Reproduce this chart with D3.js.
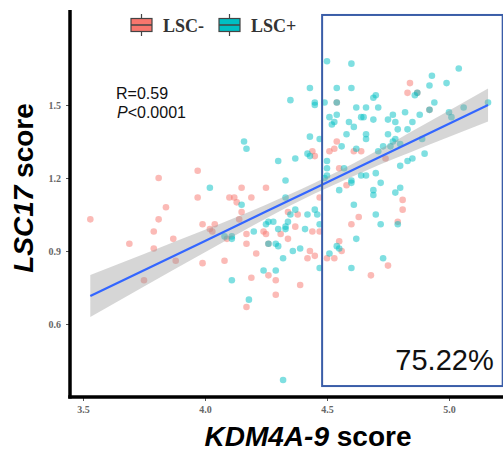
<!DOCTYPE html>
<html>
<head>
<meta charset="utf-8">
<script src="https://cdn.jsdelivr.net/npm/d3@7"></script>
<style>
  body { margin: 0; background: #fff; }
  svg { display: block; }
</style>
</head>
<body>
<div id="chart-area"></div>
<script>
// Data
var xTicks = [3.5, 4.0, 4.5, 5.0];
var yTicks = [0.6, 0.9, 1.2, 1.5];
var groups = ["LSC-", "LSC+"];

// LSC- samples [KDM4A-9 score, LSC17 score]
var lscNeg = [
  [4.54,1.51],[4.54,1.35],[4.51,1.31],[4.53,1.32],[4.44,1.31],[4.45,1.29],[4.55,1.24],[4.84,1.59],[4.83,1.55],[4.87,1.55],
  [4.92,1.48],[4.61,1.31],[4.64,1.31],[4.74,1.28],
  [3.81,1.20],[3.97,1.23],[3.53,1.03],[3.69,0.93],[3.79,0.98],[3.81,1.03],[3.84,1.08],[3.87,0.95],[3.79,0.91],[3.88,0.86],
  [3.75,0.78],[3.97,1.12],[3.99,1.01],[4.04,1.01],[4.02,0.99],[4.03,0.98],[3.99,0.85],[4.08,0.86],[4.10,1.12],[4.12,1.12],
  [4.13,1.10],[4.15,1.16],[4.15,1.06],[4.14,1.03],[4.17,0.97],[4.17,0.93],[4.09,0.95],[4.17,0.67],
  [4.25,1.16],[4.19,1.12],[4.34,1.06],[4.38,1.05],[4.47,1.12],[4.37,1.00],[4.31,0.97],[4.44,0.98],[4.47,0.98],[4.24,0.98],
  [4.25,0.97],[4.21,0.89],[4.34,0.95],[4.43,0.90],[4.42,0.87],[4.45,0.88],[4.50,0.87],[4.53,0.87],[4.55,0.94],[4.56,0.90],
  [4.60,1.01],[4.63,1.04],[4.19,0.79],[4.26,0.80],[4.29,0.78],[4.39,0.76],[4.29,0.72],[4.68,0.80],[4.58,1.17],[4.26,0.93],
  [4.81,1.11],[4.81,1.07],[4.79,1.02],[4.75,0.84]
];

// LSC+ samples
var lscPos = [
  [4.50,1.68],[4.43,1.57],[4.54,1.57],[4.35,1.52],[4.45,1.51],[4.45,1.50],[4.49,1.51],[4.54,1.51],[4.51,1.45],[4.54,1.46],
  [4.53,1.43],[4.52,1.42],[4.43,1.37],[4.47,1.36],[4.16,1.35],[4.17,1.32],[4.56,1.33],[4.42,1.30],[4.30,1.27],[4.37,1.28],
  [4.43,1.29],[4.50,1.27],[4.50,1.24],[4.57,1.24],
  [4.60,1.67],[5.04,1.65],[4.93,1.62],[4.99,1.59],[4.92,1.58],[4.60,1.57],[4.87,1.55],[4.86,1.54],[4.70,1.54],[4.69,1.53],
  [4.94,1.51],[5.16,1.51],[5.06,1.49],[4.92,1.48],[5.00,1.47],[5.01,1.45],[4.62,1.49],[4.66,1.49],[4.71,1.49],[4.82,1.47],
  [4.77,1.46],[4.88,1.46],[4.64,1.45],[4.65,1.45],[4.69,1.44],[4.75,1.44],[4.85,1.43],[4.78,1.43],[4.59,1.43],[4.61,1.41],
  [4.79,1.40],[4.66,1.38],[4.75,1.38],[4.83,1.40],[4.58,1.38],[4.78,1.36],[4.66,1.36],[4.89,1.36],[4.73,1.33],[4.77,1.35],
  [4.80,1.34],[4.71,1.31],[4.76,1.33],[4.90,1.30],[4.85,1.28],[4.83,1.27],[4.80,1.25],[4.62,1.32],[4.70,1.22],[4.66,1.21],
  [4.02,1.16],[4.15,1.09],[4.08,0.96],[4.11,0.96],[4.11,0.95],[4.11,0.78],[4.18,0.70],
  [4.33,1.19],[4.49,1.20],[4.50,1.21],[4.55,1.15],[4.60,1.19],[4.60,1.18],[4.64,1.21],[4.69,1.15],[4.69,1.13],[4.61,1.09],
  [4.37,1.07],[4.35,1.05],[4.42,1.05],[4.45,1.07],[4.46,1.05],[4.47,1.01],[4.41,0.99],[4.34,1.02],[4.33,1.00],[4.33,0.99],
  [4.30,0.99],[4.28,1.02],[4.26,1.02],[4.25,1.01],[4.20,0.98],[4.29,0.93],[4.30,0.92],[4.26,0.93],[4.36,0.90],[4.39,0.91],
  [4.32,0.87],[4.24,0.82],[4.29,0.82],[4.47,0.83],[4.54,0.92],[4.55,0.91],[4.51,0.89],[4.60,0.83],[4.62,0.95],[4.33,1.12],
  [4.72,1.18],[4.78,1.14],[4.80,1.16],[4.70,1.05],[4.72,1.01],[4.79,1.01],[4.73,0.87],[4.32,0.37]
];

// linear fit and its confidence band
var fitX  = [3.53, 3.75, 4.00, 4.25, 4.45, 4.65, 4.90, 5.16];
var fitY  = [0.715, 0.821, 0.941, 1.062, 1.158, 1.254, 1.375, 1.500];
var fitLo = [0.629, 0.754, 0.895, 1.034, 1.136, 1.226, 1.329, 1.432];
var fitHi = [0.801, 0.888, 0.987, 1.090, 1.180, 1.282, 1.421, 1.568];

// highlighted region (KDM4A-9 high) and its share
var boxX = [4.48, 5.22];
var boxY = [0.345, 1.87];
var boxLabel = "75.22%";

var colors = { "LSC-": "#F8766D", "LSC+": "#00BFC4" };

var width = 503, height = 454;

var svg = d3.select("#chart-area")
  .append("svg")
    .attr("width", width)
    .attr("height", height);

// scales map straight into page pixels
var x = d3.scaleLinear().domain([3.5, 5.0]).range([83, 449]);
var y = d3.scaleLinear().domain([0.6, 1.5]).range([324, 105]);

// points
var pts = lscNeg.map(d => ({ x: d[0], y: d[1], g: "LSC-" }))
  .concat(lscPos.map(d => ({ x: d[0], y: d[1], g: "LSC+" })));

svg.append("g")
  .selectAll("circle")
  .data(pts)
  .enter()
  .append("circle")
    .attr("cx", d => x(d.x))
    .attr("cy", d => y(d.y))
    .attr("r", 3.3)
    .attr("fill", d => colors[d.g])
    .attr("fill-opacity", 0.5);

// confidence band + fit line
var fit = fitX.map((v, i) => ({ x: v, y: fitY[i], lo: fitLo[i], hi: fitHi[i] }));

svg.append("path")
  .datum(fit)
  .attr("fill", "#999999")
  .attr("fill-opacity", 0.4)
  .attr("d", d3.area()
    .x(d => x(d.x))
    .y0(d => y(d.lo))
    .y1(d => y(d.hi))
    .curve(d3.curveMonotoneX));

svg.append("path")
  .datum(fit)
  .attr("fill", "none")
  .attr("stroke", "#3366FF")
  .attr("stroke-width", 2.2)
  .attr("d", d3.line()
    .x(d => x(d.x))
    .y(d => y(d.y)));

// axes
var yAxis = svg.append("g")
  .attr("transform", "translate(70,0)")
  .call(d3.axisLeft(y).tickValues(yTicks).tickFormat(d3.format(".1f")).tickSize(4).tickPadding(5));

var xAxis = svg.append("g")
  .attr("transform", "translate(0,397)")
  .call(d3.axisBottom(x).tickValues(xTicks).tickFormat(d3.format(".1f")).tickSize(4).tickPadding(5));

[yAxis, xAxis].forEach(a => {
  a.select(".domain").remove();
  a.selectAll(".tick line").attr("stroke", "#555").attr("stroke-width", 1);
  a.selectAll(".tick text")
    .attr("font-family", "'Liberation Serif', 'Times New Roman', serif")
    .attr("font-size", 10)
    .attr("font-weight", "bold")
    .attr("fill", "#666");
});

svg.append("line")
  .attr("x1", 70).attr("x2", 70)
  .attr("y1", 10).attr("y2", 398.5)
  .attr("stroke", "#000").attr("stroke-width", 3.5);

svg.append("line")
  .attr("x1", 68.25).attr("x2", width)
  .attr("y1", 397).attr("y2", 397)
  .attr("stroke", "#000").attr("stroke-width", 3.5);

// highlight box
svg.append("rect")
  .attr("x", x(boxX[0]))
  .attr("y", y(boxY[1]))
  .attr("width", x(boxX[1]) - x(boxX[0]))
  .attr("height", y(boxY[0]) - y(boxY[1]))
  .attr("fill", "none")
  .attr("stroke", "#3A5DA8")
  .attr("stroke-width", 2);

svg.append("text")
  .attr("x", x(boxX[1]) - 9)
  .attr("y", 370)
  .attr("text-anchor", "end")
  .attr("font-family", "'Liberation Sans', Arial, sans-serif")
  .attr("font-size", 29)
  .attr("fill", "#111")
  .text(boxLabel);

// stats annotation
var stats = svg.append("g")
  .attr("font-family", "'Liberation Sans', Arial, sans-serif")
  .attr("font-size", 16)
  .attr("fill", "#111");

stats.append("text").attr("x", 116).attr("y", 99).text("R=0.59");

var pt = stats.append("text").attr("x", 117).attr("y", 118);
pt.append("tspan").attr("font-style", "italic").text("P");
pt.append("tspan").text("<0.0001");

// legend with boxplot keys
var legend = svg.append("g");
var keyX = [130, 218];
groups.forEach((g, i) => {
  var k = legend.append("g").attr("transform", `translate(${keyX[i]},0)`);
  k.append("line")
    .attr("x1", 11.5).attr("x2", 11.5)
    .attr("y1", 14).attr("y2", 36)
    .attr("stroke", "#444").attr("stroke-width", 1.2);
  k.append("rect")
    .attr("x", 1).attr("y", 18.5)
    .attr("width", 21).attr("height", 13)
    .attr("fill", colors[g])
    .attr("stroke", "#444").attr("stroke-width", 1.2);
  k.append("line")
    .attr("x1", 1).attr("x2", 22)
    .attr("y1", 25).attr("y2", 25)
    .attr("stroke", "#444").attr("stroke-width", 1.5);
  k.append("text")
    .attr("x", 33)
    .attr("y", 32)
    .attr("font-family", "'Liberation Serif', 'Times New Roman', serif")
    .attr("font-size", 18)
    .attr("font-weight", "bold")
    .attr("fill", "#333")
    .text(g);
});

// axis titles
var xt = svg.append("text")
  .attr("x", 308)
  .attr("y", 446)
  .attr("text-anchor", "middle")
  .attr("font-family", "'Liberation Sans', Arial, sans-serif")
  .attr("font-size", 28)
  .attr("font-weight", "bold");
xt.append("tspan").attr("font-style", "italic").text("KDM4A-9");
xt.append("tspan").text(" score");

var yt = svg.append("text")
  .attr("transform", "translate(33,188) rotate(-90)")
  .attr("text-anchor", "middle")
  .attr("font-family", "'Liberation Sans', Arial, sans-serif")
  .attr("font-size", 28)
  .attr("font-weight", "bold");
yt.append("tspan").attr("font-style", "italic").text("LSC17");
yt.append("tspan").text(" score");
</script>
</body>
</html>
